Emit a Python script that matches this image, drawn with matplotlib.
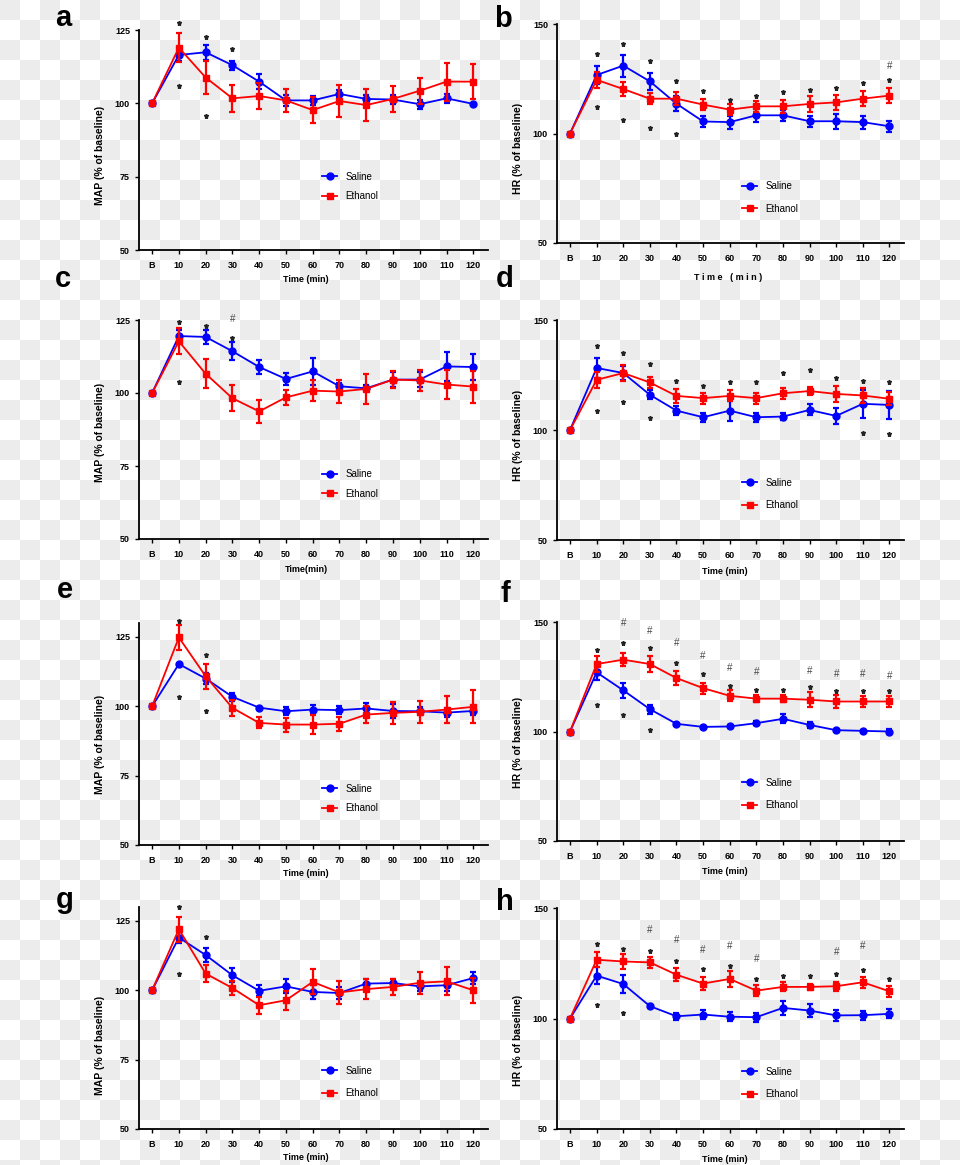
import numpy as np
import matplotlib
matplotlib.use("Agg")
import matplotlib.pyplot as plt
from matplotlib.lines import Line2D

plt.rcParams['font.family'] = ['Liberation Sans', 'DejaVu Sans']

W, H = 960, 1165

# x categories
times = ['B', '10', '20', '30', '40', '50', '60', '70', '80', '90', '100', '110', '120']

# ---- panel a (MAP) ----
a_sal = [100, 116.5, 117.4, 113.0, 107.4, 101.0, 101.0, 103.2, 101.5, 101.3, 99.7, 101.7, 99.8]
a_sal_err = [0, 2, 2.5, 1.5, 2.5, 2, 1.5, 1.5, 1.5, 1.5, 1.5, 1.5, 0]
a_eth = [100, 119.0, 108.8, 101.7, 102.5, 101.0, 97.7, 100.8, 99.4, 101.5, 104.3, 107.4, 107.4]
a_eth_err = [0, 5, 5.5, 4.5, 4.5, 4, 4.5, 5.5, 5.5, 4.5, 4.5, 6.5, 6]
a_star_x = [1, 2, 3, 1, 2]
a_star_y = [127.3, 122.7, 118.4, 105.9, 95.7]
a_hash_x = []
a_hash_y = []

# ---- panel b (HR) ----
b_sal = [100, 126.7, 131.0, 123.8, 113.6, 105.5, 105.2, 108.3, 108.3, 105.6, 105.6, 105.2, 103.3]
b_sal_err = [0, 4, 5, 4, 3.5, 2.5, 3, 3, 2.5, 2.5, 3.5, 3, 2.5]
b_eth = [100, 124.5, 120.3, 115.9, 115.9, 113.2, 110.9, 112.4, 112.4, 113.5, 114.2, 115.9, 117.3]
b_eth_err = [0, 3.5, 3, 2.5, 3, 2.5, 2.5, 2.5, 3, 3.5, 3.5, 3.5, 3.5]
b_star_x = [1, 2, 3, 4, 5, 6, 7, 8, 9, 10, 11, 12, 1, 2, 3, 4]
b_star_y = [136.4, 140.8, 132.9, 124.2, 119.2, 115.5, 117.3, 118.8, 120, 121, 123, 124.5,
            112.1, 106, 102.3, 100]
b_hash_x = [12]
b_hash_y = [130.6]

# ---- panel c (MAP) ----
c_sal = [100, 119.5, 119.2, 114.3, 108.9, 104.8, 107.4, 102.3, 101.6, 104.6, 104.6, 109.1, 108.9]
c_sal_err = [0, 2, 2.5, 3, 2.5, 2, 4.5, 1, 1, 2.5, 2.5, 5, 4.5]
c_eth = [100, 117.7, 106.6, 98.2, 93.7, 98.5, 100.8, 100.5, 101.4, 104.6, 104.3, 102.9, 102.2]
c_eth_err = [0, 4.5, 5, 4.5, 4, 2.5, 3.5, 4, 5, 3, 3.5, 5, 5.5]
c_star_x = [1, 2, 3, 1]
c_star_y = [124.4, 123, 119, 103.9]
c_hash_x = [3]
c_hash_y = [125.5]

# ---- panel d (HR) ----
d_sal = [100, 128.2, 125.9, 116.0, 108.8, 105.8, 108.8, 105.8, 106.1, 109.1, 106.4, 111.9, 111.4]
d_sal_err = [0, 4.5, 3, 2, 2, 2, 4.5, 2, 1.5, 2.5, 3.5, 6.5, 6.5]
d_eth = [100, 122.8, 125.9, 121.6, 115.5, 114.5, 115.5, 114.5, 116.7, 117.7, 116.4, 115.7, 114.2]
d_eth_err = [0, 3.5, 3.5, 2.5, 3, 2.5, 2.5, 2.5, 2.5, 2, 3.5, 3.5, 3]
d_star_x = [1, 2, 3, 4, 5, 6, 7, 8, 9, 10, 11, 12, 1, 2, 3, 11, 12]
d_star_y = [138, 135, 129.8, 122.5, 120.2, 122, 121.6, 125.9, 127.1, 123.6, 122.5, 121.8,
            108.8, 112.6, 105.3, 98.5, 98.2]
d_hash_x = []
d_hash_y = []

# ---- panel e (MAP) ----
e_sal = [100, 115.2, 110.0, 103.4, 99.5, 98.2, 98.8, 98.6, 99.2, 98.3, 98.2, 97.7, 98.3]
e_sal_err = [0, 0, 2, 1.5, 0, 1.5, 1.5, 1.5, 2, 2.5, 1.5, 1.5, 1.5]
e_eth = [100, 124.8, 110.8, 99.4, 94.0, 93.4, 93.4, 93.7, 97.0, 97.6, 98.0, 98.8, 99.8]
e_eth_err = [0, 4.5, 4.5, 3, 2, 2.5, 3.5, 2.5, 3, 4, 4, 5, 6]
e_star_x = [1, 2, 1, 2]
e_star_y = [130.8, 118.4, 103.4, 98.2]
e_hash_x = []
e_hash_y = []

# ---- panel f (HR) ----
f_sal = [100, 127.0, 118.8, 110.2, 103.5, 102.1, 102.3, 103.8, 105.8, 103.0, 100.6, 100.3, 100.0]
f_sal_err = [0, 3.5, 3.5, 2, 0.5, 0.5, 0.5, 1, 2, 1.5, 0.5, 0.5, 1]
f_eth = [100, 130.8, 132.8, 130.8, 124.4, 119.8, 116.3, 115.0, 115.0, 114.5, 113.7, 113.7, 113.7]
f_eth_err = [0, 3.5, 3, 3.5, 3, 2.5, 2.5, 1.5, 1.5, 3.5, 3, 2.5, 2.5]
f_star_x = [1, 2, 3, 4, 5, 6, 7, 8, 9, 10, 11, 12, 1, 2, 3]
f_star_y = [137.4, 140.2, 137.9, 131.3, 126.3, 121, 118.8, 119, 120.2, 118.3, 118.3, 118.3,
            112.2, 107.6, 100.8]
f_hash_x = [2, 3, 4, 5, 6, 7, 9, 10, 11, 12]
f_hash_y = [149.6, 146.1, 140.5, 134.4, 129, 127.2, 127.5, 126.4, 126.4, 125.5]

# ---- panel g (MAP) ----
g_sal = [100, 119.0, 112.7, 105.4, 99.8, 101.4, 99.4, 99.0, 102.4, 102.6, 101.4, 101.8, 104.4]
g_sal_err = [0, 2, 2.5, 2.5, 2, 2.5, 2.5, 2, 1.5, 1.5, 1.5, 2, 2]
g_eth = [100, 122.0, 106.0, 100.8, 94.6, 96.4, 103.0, 99.2, 100.4, 101.2, 102.7, 103.2, 100.0]
g_eth_err = [0, 4.5, 3, 2.5, 3, 3.5, 4.5, 4, 3.5, 3, 4, 5, 4.5]
g_star_x = [1, 2, 1]
g_star_y = [130, 119.3, 105.7]
g_hash_x = []
g_hash_y = []

# ---- panel h (HR) ----
h_sal = [100, 119.4, 115.6, 105.6, 101.0, 101.8, 100.8, 100.6, 104.8, 103.6, 101.4, 101.5, 102.1]
h_sal_err = [0, 4, 4, 1, 1.5, 2, 2, 2, 3, 3, 2.5, 2, 2]
h_eth = [100, 126.6, 125.8, 125.4, 119.8, 115.8, 117.9, 112.6, 114.3, 114.3, 114.6, 116.4, 112.3]
h_eth_err = [0, 3.5, 3.5, 2.5, 3, 3, 3.5, 2.5, 2, 1.5, 2, 2.5, 2.5]
h_star_x = [1, 2, 3, 4, 5, 6, 7, 8, 9, 10, 11, 12, 1, 2]
h_star_y = [133.8, 131.5, 130.6, 126.1, 122.5, 123.9, 117.9, 119.1, 119.4, 120.3, 122.1, 118,
            106.3, 102.3]
h_hash_x = [3, 4, 5, 6, 7, 10, 11]
h_hash_y = [140.1, 135.3, 131.1, 133, 127, 130.3, 133]

map_label = 'MAP (% of baseline)'
hr_label = 'HR (% of baseline)'
map_ticks = [50, 75, 100, 125]
hr_ticks = [50, 100, 150]

# layout in pixels: letter, (left, right, top_px, bottom_px), ylim, ...
panels = [
    ('a', (139, 488, 30, 250), (50, 125), map_ticks, map_label, 'Time (min)',
     a_sal, a_sal_err, a_eth, a_eth_err, a_star_x, a_star_y, a_hash_x, a_hash_y,
     (63, 26), (100, 155), (306, 280), (317, 186.5), 1.0),
    ('b', (557, 904, 24, 243), (50, 150), hr_ticks, hr_label, 'T i m e   ( m i n )',
     b_sal, b_sal_err, b_eth, b_eth_err, b_star_x, b_star_y, b_hash_x, b_hash_y,
     (503, 27), (518, 148), (728, 277), (737, 197.5), 1.3),
    ('c', (139, 488, 320, 539), (50, 125), map_ticks, map_label, 'Time(min)',
     c_sal, c_sal_err, c_eth, c_eth_err, c_star_x, c_star_y, c_hash_x, c_hash_y,
     (63, 287), (100, 432), (306, 570), (317, 484), 1.0),
    ('d', (557, 904, 320, 540), (50, 150), hr_ticks, hr_label, 'Time (min)',
     d_sal, d_sal_err, d_eth, d_eth_err, d_star_x, d_star_y, d_hash_x, d_hash_y,
     (505, 287), (518, 435), (725, 571), (737, 494), 1.3),
    ('e', (139, 488, 623, 845), (50, 130), map_ticks, map_label, 'Time (min)',
     e_sal, e_sal_err, e_eth, e_eth_err, e_star_x, e_star_y, e_hash_x, e_hash_y,
     (65, 598), (100, 744), (306, 873), (317, 798.5), 1.0),
    ('f', (557, 904, 622, 841), (50, 150), hr_ticks, hr_label, 'Time (min)',
     f_sal, f_sal_err, f_eth, f_eth_err, f_star_x, f_star_y, f_hash_x, f_hash_y,
     (505, 602), (518, 742), (725, 871), (737, 794), 1.3),
    ('g', (139, 488, 907, 1129), (50, 130), map_ticks, map_label, 'Time (min)',
     g_sal, g_sal_err, g_eth, g_eth_err, g_star_x, g_star_y, g_hash_x, g_hash_y,
     (65, 908), (100, 1045), (306, 1158), (317, 1082), 1.3),
    ('h', (557, 904, 908, 1129), (50, 150), hr_ticks, hr_label, 'Time (min)',
     h_sal, h_sal_err, h_eth, h_eth_err, h_star_x, h_star_y, h_hash_x, h_hash_y,
     (505, 910), (518, 1040), (725, 1160), (737, 1083), 1.3),
]

fig = plt.figure(figsize=(W / 100, H / 100), dpi=100)

# transparent-background checkerboard seen behind the reference
yy, xx = np.mgrid[0:H, 0:W]
checker = np.where(((xx // 20) + (yy // 20)) % 2 == 0, 236, 255).astype(float)
fig.figimage(checker, xo=0, yo=0, origin='upper', cmap='gray', vmin=0, vmax=255, zorder=-10)


def fx(x):
    return x / W


def fy(y):
    return 1 - y / H


x = np.arange(len(times))

# legend handles: line + marker only
leg_handles = [
    Line2D([], [], color='#0000ff', marker='o', markersize=5, linewidth=1.3, label='Saline'),
    Line2D([], [], color='#ff0000', marker='s', markersize=4.5, linewidth=1.3, label='Ethanol'),
]

for (letter, box, ylim, yticks, ylab, xlab, sal, sal_err, eth, eth_err,
     sx, sy, hx, hy, let_pos, ylab_pos, xlab_pos, leg_pos, leg_sp) in panels:
    left, right, top, bottom = box
    ax = fig.add_axes([fx(left), fy(bottom), (right - left) / W, (bottom - top) / H])
    ax.patch.set_alpha(0)

    ax.errorbar(x, sal, yerr=sal_err, color='#0000ff', marker='o', markersize=5,
                linewidth=1.3, elinewidth=1.6, capsize=2.5, capthick=1.6,
                clip_on=False, zorder=3)
    ax.errorbar(x, eth, yerr=eth_err, color='#ff0000', marker='s', markersize=4.5,
                linewidth=1.3, elinewidth=1.6, capsize=2.5, capthick=1.6,
                clip_on=False, zorder=4)

    ax.plot(sx, sy, linestyle='none', marker='*', markersize=3.6, color='#222222',
            clip_on=False, zorder=5)
    for hxi, hyi in zip(hx, hy):
        ax.text(hxi, hyi, '#', ha='center', va='center', fontsize=7, color='#444444')

    ax.set_xlim(-0.49, 12.55)
    ax.set_ylim(*ylim)
    ax.set_xticks(x)
    ax.set_xticklabels(times)
    ax.set_yticks(yticks)
    ax.spines['top'].set_visible(False)
    ax.spines['right'].set_visible(False)
    ax.spines['left'].set_linewidth(1.3)
    ax.spines['bottom'].set_linewidth(1.3)
    ax.tick_params(axis='both', length=3, width=1.0, labelsize=6.5, pad=3.5)
    ax.tick_params(axis='x', pad=5)
    for lab in ax.get_xticklabels() + ax.get_yticklabels():
        lab.set_fontweight('bold')

    ax.legend(handles=leg_handles, loc='center left',
              bbox_to_anchor=(fx(leg_pos[0]), fy(leg_pos[1])),
              bbox_transform=fig.transFigure, frameon=False, fontsize=7,
              borderpad=0, handlelength=1.6, handletextpad=0.8, labelspacing=leg_sp)

    fig.text(fx(let_pos[0]), fy(let_pos[1]), letter, ha='center', va='baseline',
             fontsize=21, fontweight='bold')
    fig.text(fx(ylab_pos[0]), fy(ylab_pos[1]), ylab, ha='center', va='center',
             rotation=90, fontsize=7.5, fontweight='bold')
    fig.text(fx(xlab_pos[0]), fy(xlab_pos[1]), xlab, ha='center', va='center',
             fontsize=6.5, fontweight='bold')

fig.savefig('out.png', dpi=100)
